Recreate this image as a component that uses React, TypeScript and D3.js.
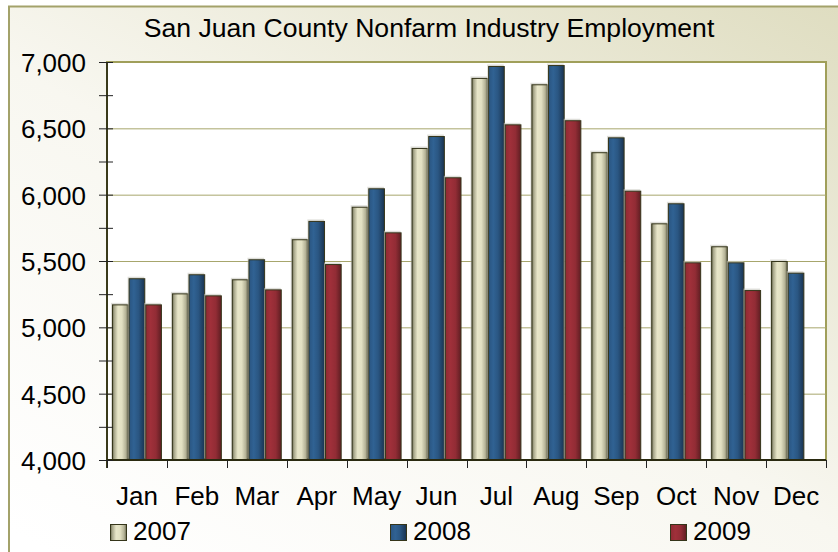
import React, { useEffect, useRef } from 'react';
import * as d3 from 'd3';

const months = ['Jan', 'Feb', 'Mar', 'Apr', 'May', 'Jun', 'Jul', 'Aug', 'Sep', 'Oct', 'Nov', 'Dec'];
const years = ['2007', '2008', '2009'];

const values2007 = [5173, 5256, 5362, 5664, 5909, 6352, 6880, 6832, 6320, 5784, 5611, 5500];
const values2008 = [5370, 5400, 5513, 5802, 6048, 6442, 6970, 6977, 6432, 5935, 5490, 5412];
const values2009: (number | null)[] = [5173, 5241, 5286, 5477, 5716, 6131, 6530, 6561, 6030, 5490, 5281, null];

const yTicks = [4000, 4500, 5000, 5500, 6000, 6500, 7000];
const yMinorTicks = [4250, 4750, 5250, 5750, 6250, 6750];

const titleText = 'San Juan County Nonfarm Industry Employment';

const App: React.FC = () => {
  const svgRef = useRef<SVGSVGElement>(null);

  useEffect(() => {
    if (!svgRef.current) return;
    const svg = d3.select(svgRef.current);
    svg.selectAll('*').remove();

    const font = '"Liberation Sans", Arial, sans-serif';
    const left = 107, right = 826, top = 62, bottom = 460;

    const defs = svg.append('defs');

    const bg = defs.append('linearGradient').attr('id', 'bg')
      .attr('x1', '0.15').attr('y1', '1').attr('x2', '1').attr('y2', '0');
    bg.append('stop').attr('offset', '0').attr('stop-color', '#ffffff');
    bg.append('stop').attr('offset', '0.45').attr('stop-color', '#f8f7f0');
    bg.append('stop').attr('offset', '1').attr('stop-color', '#dddbbd');

    const barGrad = (id: string, stops: [number, string][]) => {
      const g = defs.append('linearGradient').attr('id', id)
        .attr('x1', '0').attr('y1', '0').attr('x2', '1').attr('y2', '0');
      stops.forEach(([o, c]) => g.append('stop').attr('offset', o).attr('stop-color', c));
    };
    barGrad('g2007', [[0, '#6f6f55'], [0.12, '#a9a88c'], [0.35, '#e8e6c9'], [0.6, '#e2e0c2'], [0.85, '#b5b397'], [1, '#6a6a50']]);
    barGrad('g2008', [[0, '#2a5581'], [0.3, '#306293'], [0.6, '#2a5682'], [1, '#1a3350']]);
    barGrad('g2009', [[0, '#8e2a33'], [0.3, '#a0303a'], [0.65, '#922c35'], [1, '#5e1e22']]);

    // outer chart area
    svg.append('rect')
      .attr('x', 9).attr('y', 6.5).attr('width', 900).attr('height', 600)
      .attr('fill', 'url(#bg)').attr('stroke', '#a3a26a').attr('stroke-width', 2);

    // plot area
    svg.append('rect')
      .attr('x', left).attr('y', top).attr('width', right - left).attr('height', bottom - top)
      .attr('fill', '#ffffff').attr('stroke', '#a09f5a').attr('stroke-width', 2);

    svg.append('text')
      .attr('x', 429).attr('y', 37)
      .attr('text-anchor', 'middle')
      .attr('font-family', font).attr('font-size', 26.6).attr('fill', '#000')
      .text(titleText);

    const y = d3.scaleLinear().domain([4000, 7000]).range([bottom, top]);
    const x0 = d3.scaleBand<string>().domain(months).range([left, right])
      .paddingInner(1 / 6).paddingOuter(1 / 12);
    const x1 = d3.scaleBand<string>().domain(years).range([0, x0.bandwidth()]);

    // gridlines
    svg.append('g').selectAll('line').data(yTicks.slice(1, -1)).join('line')
      .attr('x1', left).attr('x2', right)
      .attr('y1', d => y(d) + 0.5).attr('y2', d => y(d) + 0.5)
      .attr('stroke', '#a7a66c').attr('stroke-width', 1);

    // bars
    const series: [string, (number | null)[]][] = [
      ['2007', values2007], ['2008', values2008], ['2009', values2009],
    ];
    const bars = svg.append('g');
    series.forEach(([yr, vals]) => {
      months.forEach((m, i) => {
        const v = vals[i];
        if (v == null) return;
        const bx = (x0(m) as number) + (x1(yr) as number);
        const bw = x1.bandwidth();
        bars.append('rect')
          .attr('x', bx - 1).attr('y', y(v) - 1.5)
          .attr('width', bw).attr('height', bottom - y(v))
          .attr('fill', '#c8c8c0').attr('opacity', 0.6);
        bars.append('rect')
          .attr('x', bx + 0.5).attr('y', y(v) + 0.5)
          .attr('width', bw - 1).attr('height', bottom - y(v) - 0.5)
          .attr('fill', `url(#g${yr})`)
          .attr('stroke', '#35351a').attr('stroke-width', 1);
      });
    });

    // axes
    svg.append('line')
      .attr('x1', left).attr('x2', left).attr('y1', top).attr('y2', bottom + 8)
      .attr('stroke', '#3a3a1a').attr('stroke-width', 2);
    svg.append('line')
      .attr('x1', left).attr('x2', right).attr('y1', bottom).attr('y2', bottom)
      .attr('stroke', '#2a2a10').attr('stroke-width', 2);

    svg.append('g').selectAll('line').data([...yTicks, ...yMinorTicks]).join('line')
      .attr('x1', 99).attr('x2', 113)
      .attr('y1', d => y(d) + 0.5).attr('y2', d => y(d) + 0.5)
      .attr('stroke', '#222').attr('stroke-width', 1);

    const boundaries = months.map(m => (x0(m) as number) - x0.step() * x0.paddingOuter());
    boundaries.push(right);
    svg.append('g').selectAll('line').data(boundaries).join('line')
      .attr('x1', d => Math.round(d) + 0.5).attr('x2', d => Math.round(d) + 0.5)
      .attr('y1', bottom).attr('y2', bottom + 8)
      .attr('stroke', '#222').attr('stroke-width', 1);

    svg.append('g').selectAll('text').data(yTicks).join('text')
      .attr('x', 86).attr('y', d => y(d) + 10)
      .attr('text-anchor', 'end')
      .attr('font-family', font).attr('font-size', 26).attr('fill', '#000')
      .text(d => d3.format(',')(d));

    svg.append('g').selectAll('text').data(months).join('text')
      .attr('x', d => (x0(d) as number) + x0.bandwidth() / 2)
      .attr('y', 505)
      .attr('text-anchor', 'middle')
      .attr('font-family', font).attr('font-size', 26).attr('fill', '#000')
      .text(d => d);

    // legend
    const legendX = [110, 390, 670];
    years.forEach((yr, i) => {
      svg.append('rect')
        .attr('x', legendX[i] + 0.5).attr('y', 524.5).attr('width', 16).attr('height', 16)
        .attr('fill', `url(#g${yr})`).attr('stroke', '#35351a').attr('stroke-width', 1);
      svg.append('text')
        .attr('x', legendX[i] + 23).attr('y', 540)
        .attr('font-family', font).attr('font-size', 26).attr('fill', '#000')
        .text(yr);
    });
  }, []);

  return (
    <svg ref={svgRef} width={838} height={552}
      style={{ position: 'absolute', left: 0, top: 0, display: 'block' }} />
  );
};

export default App;
